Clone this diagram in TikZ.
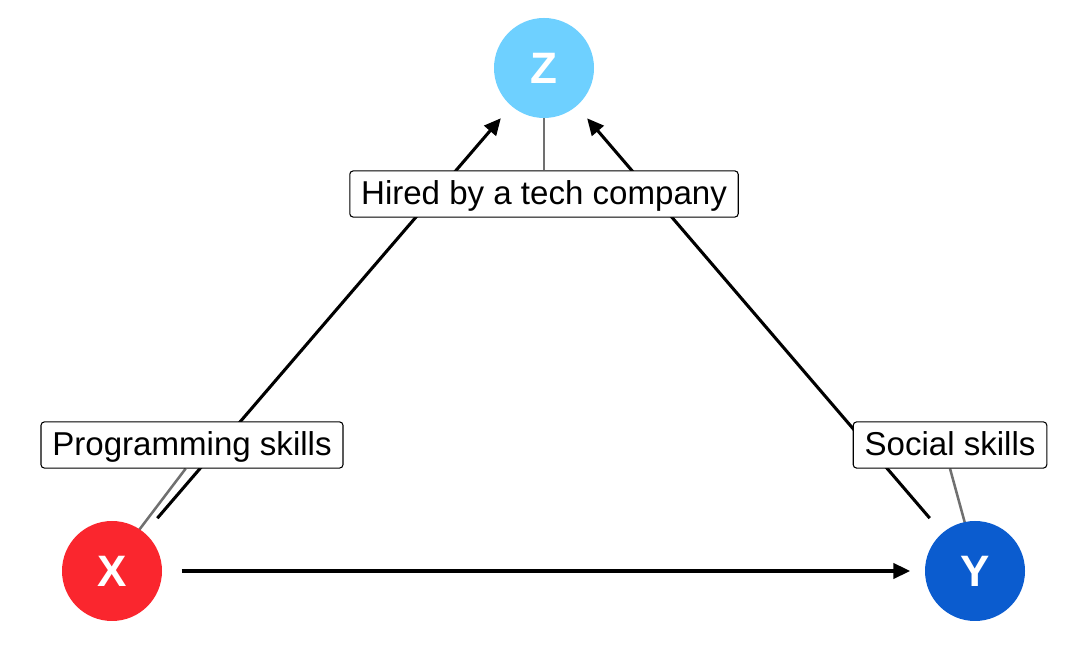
\documentclass[tikz,border=0pt]{standalone}
\usepackage{fontspec}
\setmainfont{Liberation Sans}
\usepackage{xcolor}
\usepackage{tikz}
\usetikzlibrary{arrows.meta,positioning,backgrounds}
\definecolor{vermelho}{RGB}{250,38,46}
\definecolor{azulclaro}{RGB}{110,208,255}
\definecolor{azulforte}{RGB}{11,92,207}
\definecolor{cinzalinha}{RGB}{112,112,112}
\tikzset{
  no/.style={circle,minimum size=75pt,inner sep=0pt,text=white,
    font=\fontsize{33}{36}\selectfont\bfseries},
  rotulo/.style={rectangle,rounded corners=2.5pt,draw=black,fill=white,line width=0.8pt,
    inner xsep=8.5pt,inner ysep=5.6pt,text height=19.6pt,text depth=3.8pt,
    font=\fontsize{24.8}{28}\selectfont},
  seta/.style={-{Triangle[length=12.5pt,width=11.5pt]},line width=2.3pt,black,
    shorten <=14.5pt,shorten >=12pt},
  ligacao/.style={line width=1.9pt,cinzalinha}
}

\begin{document}
\begin{tikzpicture}[x=0.75pt,y=0.75pt]
  \useasboundingbox (0,0) rectangle (1080,648);
  \node[no,fill=vermelho] (x) at (112,77) {X};
  \node[no,fill=azulforte] (y) at (975,77) {Y};
  \node[no,fill=azulclaro] (z) at (544,580) {Z};
  \node[rotulo] (labz) at (544,454) {Hired by a tech company};
  \node[rotulo] (labx) at (192,203) {Programming skills};
  \node[rotulo] (laby) at (950,203) {Social skills};
  \coordinate (zfim) at (544,548);
  \coordinate (xfim) at (133,110);
  \coordinate (yfim) at (969,110);
  \begin{scope}[on background layer]
    \draw[ligacao] (labz.north) -- (zfim);
    \draw[ligacao] (labx.-105) -- (xfim);
    \draw[ligacao] (laby.south) -- (yfim);
    \draw[seta] (x) -- (z);
    \draw[seta] (y) -- (z);
    \draw[seta,shorten >=11pt] (x) -- (y);
  \end{scope}
\end{tikzpicture}
\end{document}
